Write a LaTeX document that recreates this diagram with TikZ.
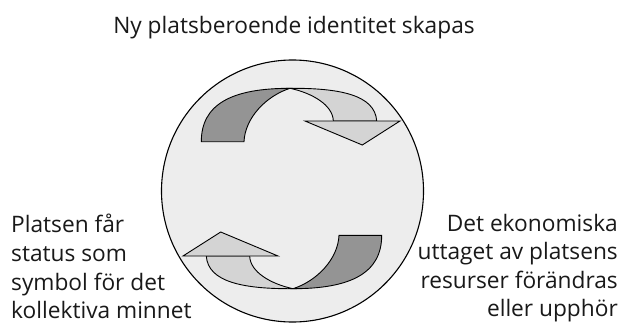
\documentclass[tikz,border=0pt]{standalone}
\usepackage{fontspec}
\setmainfont{Open Sans}
\begin{document}
\begin{tikzpicture}[x=1pt,y=-1pt,
  lbl/.style={inner sep=0pt,font=\fontsize{22.7}{29}\selectfont,text=black!90},
  ring/.style={draw=black,line width=1.1pt,fill=black!7},
  darkrib/.style={draw=black,line width=0.9pt,fill=black!42},
  lightrib/.style={draw=black,line width=0.9pt,fill=black!17},
  head/.style={draw=black,line width=0.9pt,fill=black!17,line join=miter}]
\useasboundingbox (0,0) rectangle (623,324);
\fill[white] (0,0) rectangle (623,324);
\node[ring,circle,minimum size=262pt,inner sep=0pt] (c) at (292.5,191) {};
% top pair
\begin{scope}
\draw[darkrib] (201.3,141.7) .. controls (201.3,104) and (232,88.3) .. (290,88.3)
  .. controls (266,96) and (245,118) .. (244,141.7) -- cycle;
\draw[lightrib] (290,88.3) .. controls (340,88) and (375,95) .. (376.7,121)
  -- (333.3,121) .. controls (333,105) and (312,93) .. (290,88.3) -- cycle;
\draw[head] (305,121) -- (400,121) -- (362.3,145) -- cycle;
\end{scope}
% bottom pair (point reflection)
\begin{scope}[rotate around={180:(291.5,188.5)}]
\draw[darkrib] (201.3,141.7) .. controls (201.3,104) and (232,88.3) .. (290,88.3)
  .. controls (266,96) and (245,118) .. (244,141.7) -- cycle;
\draw[lightrib] (290,88.3) .. controls (340,88) and (375,95) .. (376.7,121)
  -- (333.3,121) .. controls (333,105) and (312,93) .. (290,88.3) -- cycle;
\draw[head] (305,121) -- (400,121) -- (362.3,145) -- cycle;
\end{scope}
\node[lbl,anchor=base] (t) at (294,33) {Ny platsberoende identitet skapas};
\node[lbl,anchor=base west] (l1) at (11,232) {Platsen får};
\node[lbl,anchor=base west] (l2) at (11,261) {status som};
\node[lbl,anchor=base west] (l3) at (11,290) {symbol för det};
\node[lbl,anchor=base west] (l4) at (11,318) {kollektiva minnet};
\node[lbl,anchor=base east] (r1) at (618,231) {Det ekonomiska};
\node[lbl,anchor=base east] (r2) at (618,259.5) {uttaget av platsens};
\node[lbl,anchor=base east] (r3) at (618,288) {resurser förändras};
\node[lbl,anchor=base east] (r4) at (618,316.5) {eller upphör};
\end{tikzpicture}
\end{document}
